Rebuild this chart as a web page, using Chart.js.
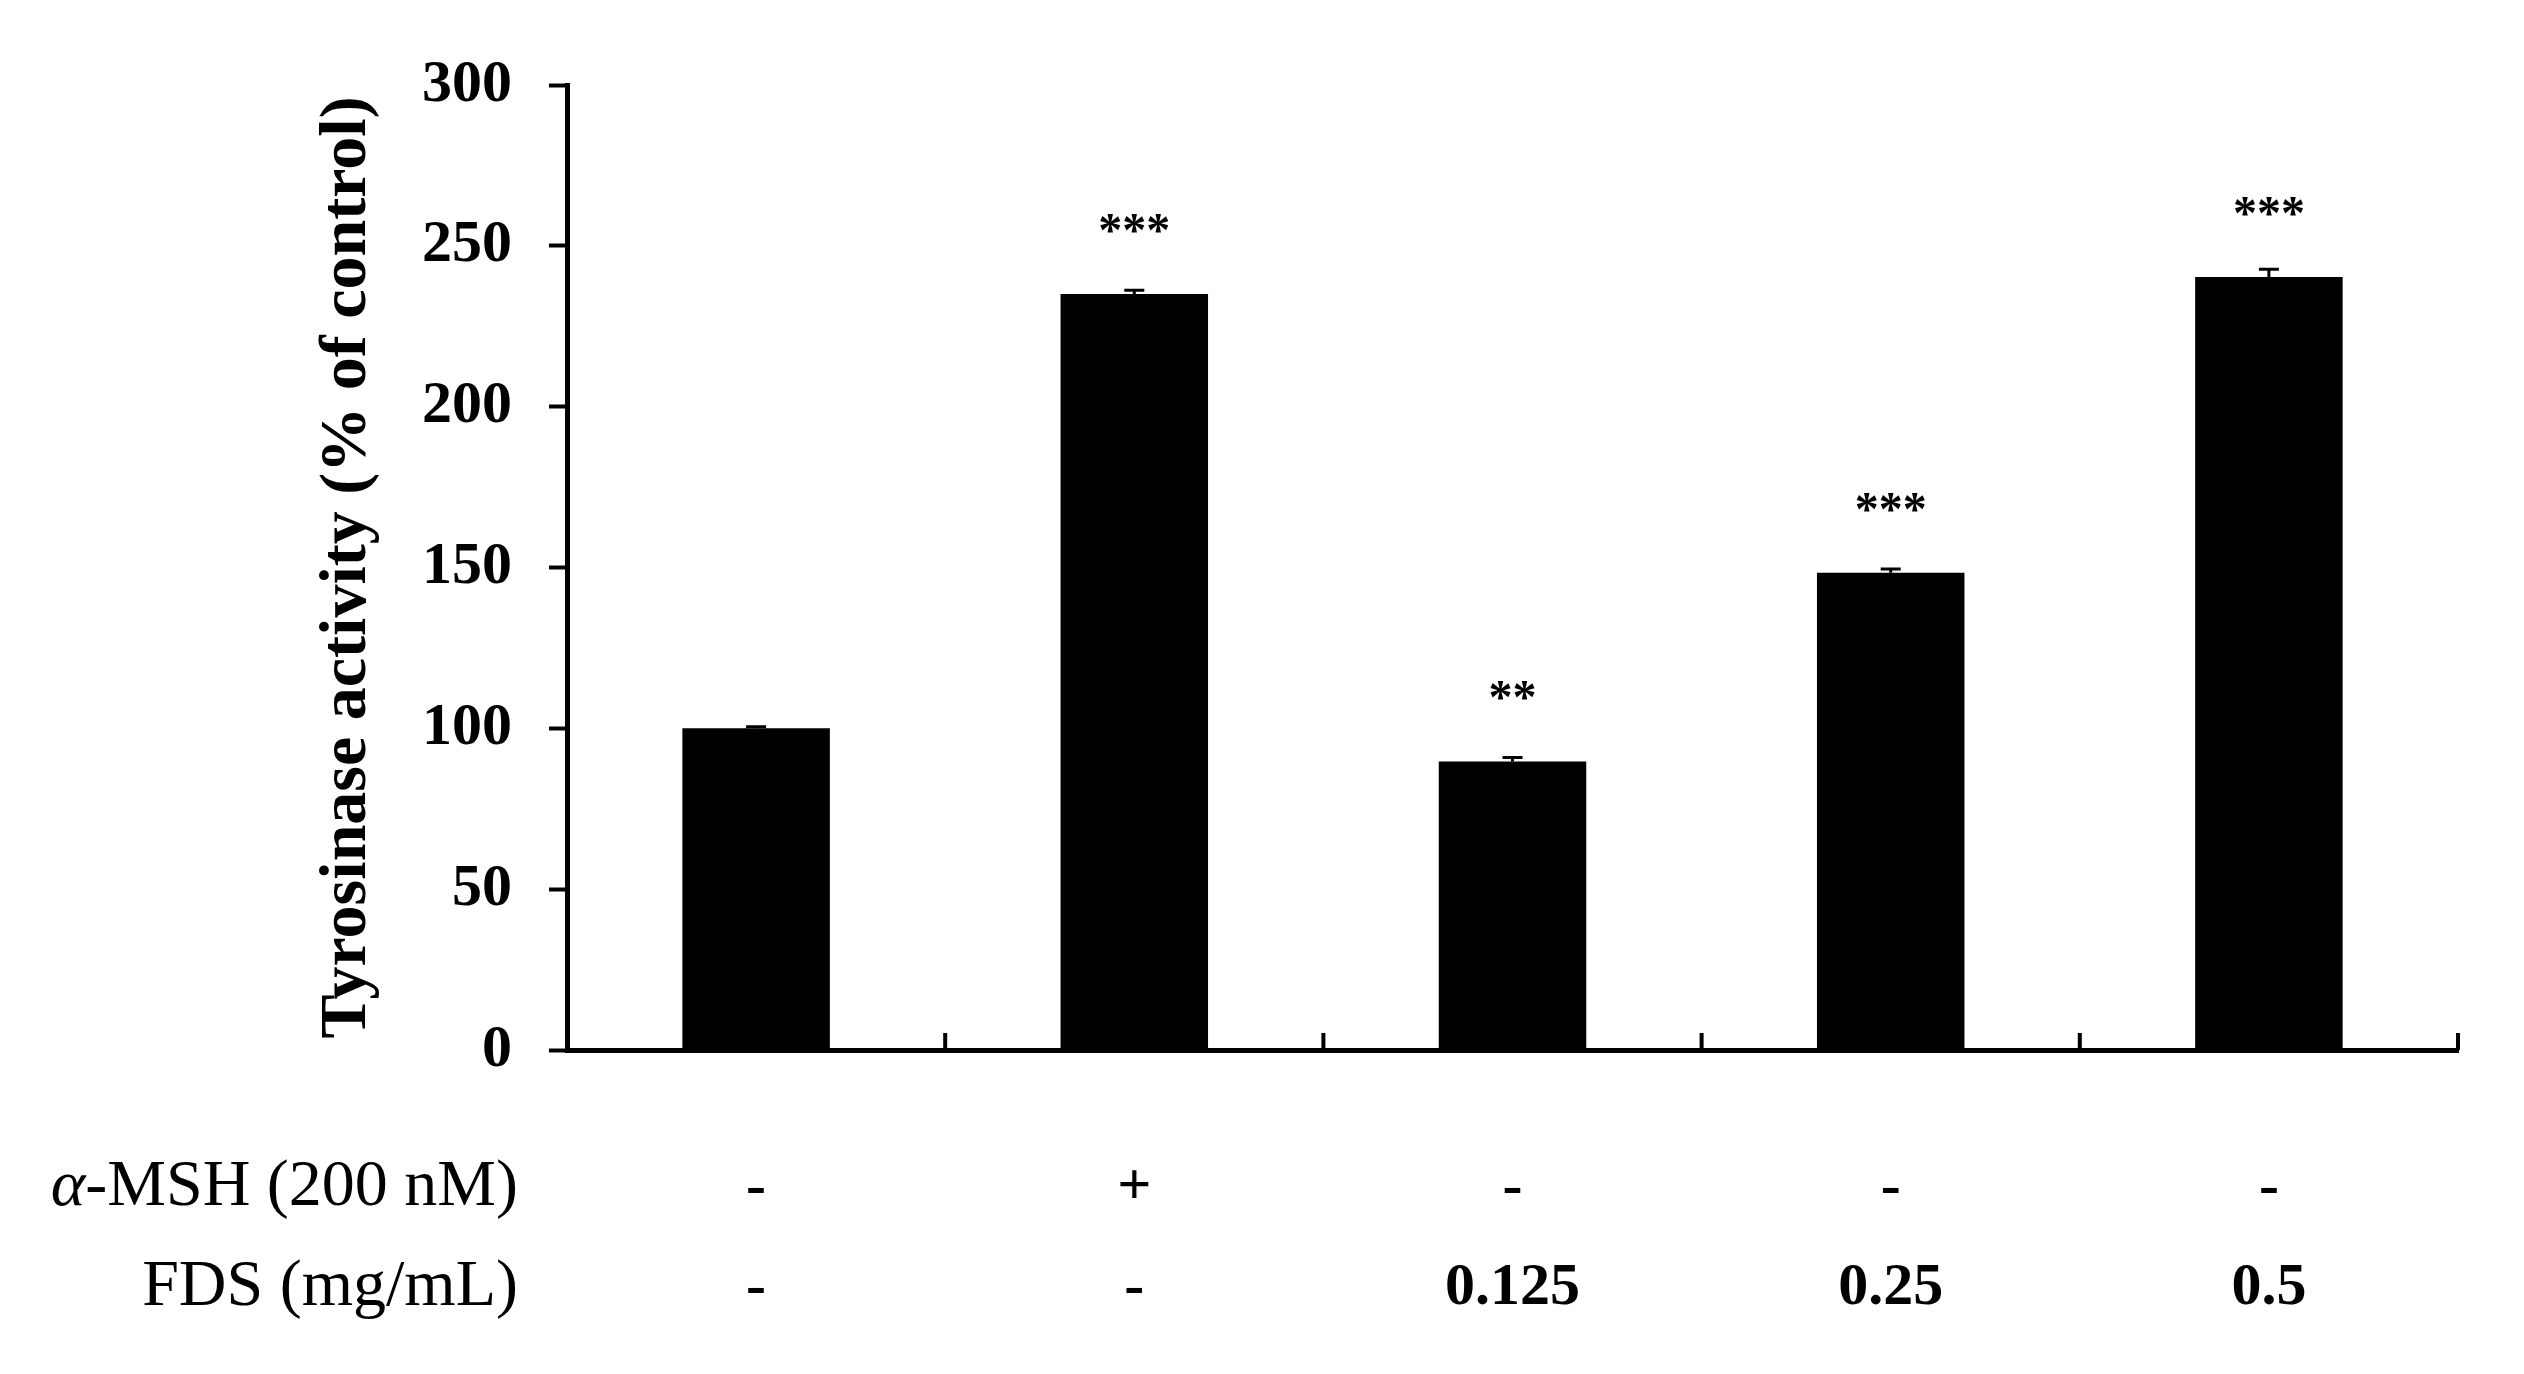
<!DOCTYPE html>
<html>
<head>
<meta charset="utf-8">
<script src="https://cdn.jsdelivr.net/npm/chart.js@4.4.1/dist/chart.umd.min.js"></script>
<style>
  html, body { margin: 0; padding: 0; background: #fff; }
</style>
</head>
<body>
<canvas id="chart" width="2524" height="1374"></canvas>
<script>
// data
const msh = ['-', '+', '-', '-', '-'];
const fds = ['-', '-', '0.125', '0.25', '0.5'];
const activity = [100, 235, 89.7, 148.4, 240.3];
const sem = [0.5, 1.2, 1.2, 1.1, 2.4];
const stars = ['', '***', '**', '***', '***'];
const yTicks = [0, 50, 100, 150, 200, 250, 300];

const SERIF = "'Liberation Serif', 'Times New Roman', serif";

// error bars + significance marks
const marksPlugin = {
    id: 'marks',
    afterDatasetsDraw(chart) {
        const ctx = chart.ctx;
        const x = chart.scales.x;
        const y = chart.scales.y;
        ctx.save();
        ctx.strokeStyle = '#000';
        ctx.fillStyle = '#000';
        activity.forEach((v, i) => {
            const cx = x.getPixelForValue(i);
            const top = y.getPixelForValue(v);
            const errTop = y.getPixelForValue(v + sem[i]);
            ctx.lineWidth = 3;
            ctx.beginPath();
            ctx.moveTo(cx, top);
            ctx.lineTo(cx, errTop);
            ctx.moveTo(cx - 10, errTop);
            ctx.lineTo(cx + 10, errTop);
            ctx.stroke();
            if (stars[i]) {
                ctx.font = 'bold 48px ' + SERIF;
                ctx.textAlign = 'center';
                ctx.textBaseline = 'alphabetic';
                ctx.fillText(stars[i], cx, top - 48);
            }
        });
        ctx.restore();
    },
    afterDraw(chart) {
        const ctx = chart.ctx;
        const x = chart.scales.x;
        const area = chart.chartArea;
        const half = (x.getPixelForValue(1) - x.getPixelForValue(0)) / 2;
        ctx.save();
        // category ticks pointing up from the x axis
        ctx.strokeStyle = '#000';
        ctx.lineWidth = 4;
        ctx.beginPath();
        for (let i = 0; i < activity.length; i++) {
            const bx = x.getPixelForValue(i) + half;
            ctx.moveTo(bx, area.bottom);
            ctx.lineTo(bx, area.bottom - 17);
        }
        ctx.stroke();

        // row titles of the treatment table
        const rowY = [1188, 1288];
        const rightEdge = 518;
        ctx.fillStyle = '#000';
        ctx.textBaseline = 'middle';
        ctx.textAlign = 'right';
        ctx.font = '66px ' + SERIF;
        const rest = '-MSH (200 nM)';
        ctx.fillText(rest, rightEdge, rowY[0]);
        const w = ctx.measureText(rest).width;
        ctx.font = 'italic 66px ' + SERIF;
        ctx.fillText('\u03b1', rightEdge - w, rowY[0]);
        ctx.font = '66px ' + SERIF;
        ctx.fillText('FDS (mg/mL)', rightEdge, rowY[1]);
        ctx.restore();
    }
};

const ctx = document.getElementById('chart').getContext('2d');
new Chart(ctx, {
    type: 'bar',
    data: {
        labels: msh.map((m, i) => [m, fds[i]]),
        datasets: [{
            data: activity,
            backgroundColor: '#000',
            borderWidth: 0,
            barPercentage: 0.39,
            categoryPercentage: 1
        }]
    },
    options: {
        responsive: false,
        animation: false,
        layout: { padding: { left: 308, right: 66, top: 85, bottom: 0 } },
        plugins: {
            legend: { display: false },
            tooltip: { enabled: false }
        },
        scales: {
            x: {
                grid: { display: false, drawTicks: false },
                border: { display: true, color: '#000', width: 5 },
                ticks: {
                    color: '#000',
                    padding: 88,
                    maxRotation: 0,
                    font: { family: SERIF, size: 60, weight: 'bold', lineHeight: 1.667 }
                },
                afterFit(scale) { scale.height = 324; }
            },
            y: {
                min: 0,
                max: 300,
                afterBuildTicks(scale) { scale.ticks = yTicks.map(v => ({ value: v })); },
                grid: {
                    drawOnChartArea: false,
                    drawTicks: true,
                    tickLength: 18,
                    tickWidth: 4,
                    tickColor: '#000'
                },
                border: { display: true, color: '#000', width: 5 },
                ticks: {
                    color: '#000',
                    padding: 37,
                    font: { family: SERIF, size: 60, weight: 'bold' }
                },
                title: {
                    display: true,
                    text: 'Tyrosinase activity (% of control)',
                    color: '#000',
                    padding: 0,
                    font: { family: SERIF, size: 66, weight: 'bold', lineHeight: 1.2 }
                },
                afterFit(scale) { scale.width = 259; }
            }
        }
    },
    plugins: [marksPlugin]
});
</script>
</body>
</html>
